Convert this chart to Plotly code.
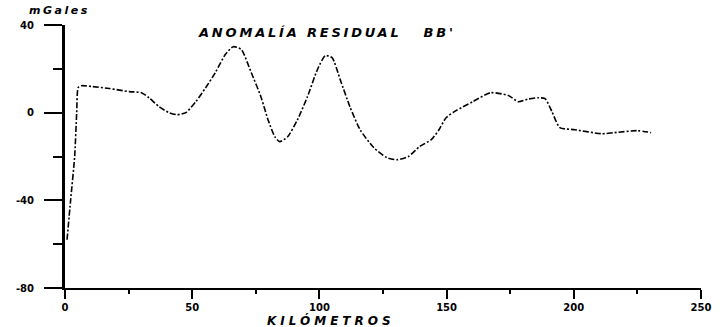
import plotly.graph_objects as go

# Residual gravity anomaly along profile BB'
distance_km = [0.8, 2.2, 3.8, 4.6, 5.2, 6.5, 10.9, 17.5, 25.3, 30.0, 33.0, 37.0, 40.9, 44.0,
               47.5, 51.4, 55.3, 59.1, 63.0, 66.1, 69.3, 73.2, 77.0, 79.8, 82.5, 84.4,
               87.5, 91.4, 95.3, 99.2, 102.3, 105.0, 108.2, 112.0, 116.0, 121.4, 126.5,
               130.4, 135.0, 139.3, 144.0, 147.0, 149.8, 153.7, 160.3, 167.3, 174.3,
               178.2, 182.0, 186.0, 188.7, 191.4, 194.5, 200.4, 211.0, 216.0, 225.0, 230.4]
anomaly_mgal = [-58, -40, -20, 0, 11.5, 12.3, 11.9, 11.0, 9.6, 9.1, 6.8, 2.7, 0.0, -0.9,
                0.0, 5.0, 11.4, 18.3, 26.5, 30.1, 28.8, 18.3, 7.3, -3.2, -11.0, -13.2,
                -11.0, -3.2, 7.3, 19.6, 26.0, 25.1, 15.0, 2.7, -7.8, -16.0, -20.5,
                -21.5, -20.0, -15.5, -12.3, -7.8, -2.3, 0.9, 5.0, 9.1, 7.8,
                5.0, 6.2, 6.8, 6.4, 0.5, -6.8, -7.8, -9.6, -9.1, -8.2, -9.1]

x_tick_vals = [0, 50, 100, 150, 200, 250]
x_tick_text = ["0", "50", "100", "150", "200", "250"]
y_tick_vals = [-80, -40, 0, 40]
y_tick_text = ["-80", "-40", "0", "40"]

tick_font = dict(family="DejaVu Sans", size=10, color="black", weight="bold")


def spaced(text, px):
    return f'<span style="letter-spacing:{px}px">{text}</span>'


def label_font(size):
    return dict(family="DejaVu Sans", size=size, color="black", weight="bold", style="italic")


fig = go.Figure()
fig.add_trace(go.Scatter(
    x=distance_km, y=anomaly_mgal, mode="lines",
    line=dict(color="black", width=1.6, dash="6px,2px,2px,2px", shape="spline", smoothing=0.6),
    cliponaxis=False, showlegend=False,
))

fig.update_layout(
    width=723, height=327,
    margin=dict(l=65, r=15, t=25, b=39),
    paper_bgcolor="white", plot_bgcolor="white",
    xaxis=dict(
        range=[0, 250], showgrid=False, zeroline=False,
        showline=True, linecolor="black", linewidth=2,
        ticks="outside", ticklen=9, tickwidth=2, tickcolor="black",
        tickmode="array", tickvals=x_tick_vals, ticktext=x_tick_text, tickfont=tick_font,
        minor=dict(tickmode="linear", tick0=0, dtick=25, ticks="outside",
                   ticklen=4, tickwidth=2, tickcolor="black", showgrid=False),
    ),
    yaxis=dict(
        range=[-80, 40], showgrid=False, zeroline=False,
        showline=True, linecolor="black", linewidth=3,
        ticks="outside", ticklen=18, tickwidth=2, tickcolor="black",
        tickmode="array", tickvals=y_tick_vals, ticktext=y_tick_text, tickfont=tick_font,
        ticklabelstandoff=8,
        minor=dict(tickmode="linear", tick0=0, dtick=20, ticks="outside",
                   ticklen=9, tickwidth=2, tickcolor="black", showgrid=False),
    ),
    annotations=[
        dict(text=spaced("ANOMALÍA RESIDUAL   BB'", 2.8), xref="paper", yref="paper",
             x=(330 - 65) / 643, y=1 + (25 - 32) / 263, xanchor="center", yanchor="middle",
             showarrow=False, font=label_font(13)),
        dict(text=spaced("mGales", 2.5), xref="paper", yref="paper",
             x=(59 - 65) / 643, y=1 + (25 - 11) / 263, xanchor="center", yanchor="middle",
             showarrow=False, font=label_font(11)),
        dict(text=spaced("KILÓMETROS", 4), xref="paper", yref="paper",
             x=(334 - 65) / 643, y=-(320 - 288) / 263, xanchor="center", yanchor="middle",
             showarrow=False, font=label_font(12)),
    ],
)

fig.write_html("out.html")
